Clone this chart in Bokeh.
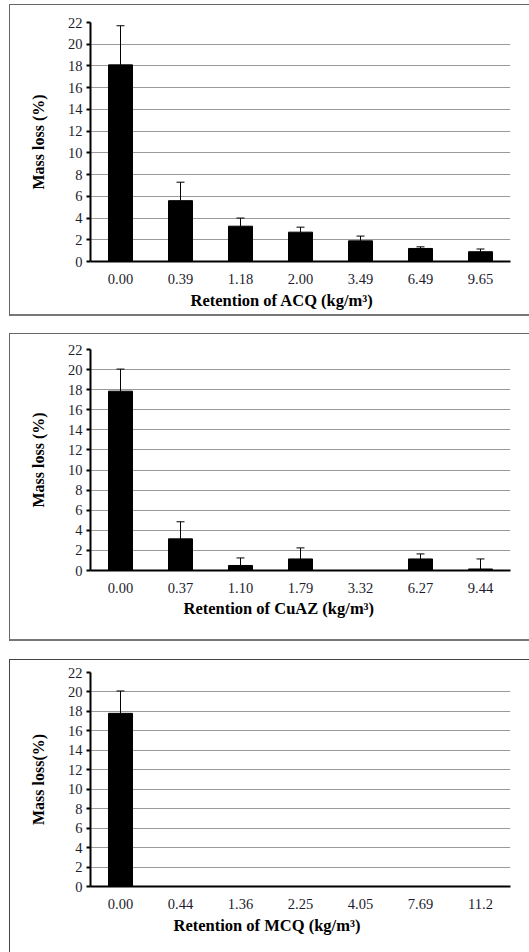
from bokeh.plotting import figure
from bokeh.models import (ColumnDataSource, Whisker, TeeHead, FixedTicker, Range1d,
                          FactorRange, Spacer, Title)
from bokeh.layouts import column, row
from bokeh.embed import file_html
from bokeh.resources import INLINE

# ---- data ----
acq_ret = ["0.00", "0.39", "1.18", "2.00", "3.49", "6.49", "9.65"]
acq_loss = [18.1, 5.6, 3.25, 2.7, 1.9, 1.2, 0.9]
acq_err = [3.6, 1.7, 0.75, 0.46, 0.44, 0.15, 0.25]

cuaz_ret = ["0.00", "0.37", "1.10", "1.79", "3.32", "6.27", "9.44"]
cuaz_loss = [17.85, 3.15, 0.5, 1.15, 0.0, 1.15, 0.15]
cuaz_err = [2.2, 1.7, 0.75, 1.1, 0.0, 0.5, 1.0]

mcq_ret = ["0.00", "0.44", "1.36", "2.25", "4.05", "7.69", "11.2"]
mcq_loss = [17.8, 0.0, 0.0, 0.0, 0.0, 0.0, 0.0]
mcq_err = [2.3, 0.0, 0.0, 0.0, 0.0, 0.0, 0.0]

y_ticks = list(range(0, 23, 2))

FONT = "Liberation Serif"
TICK_COLOR = "#1c1c2e"


def make_panel(ret, loss, err, xlabel, ylabel, height, mb, shadow, x_off, x_stand):
    p = figure(x_range=FactorRange(*ret), y_range=Range1d(0, 22),
               width=520, height=height, output_backend="svg",
               toolbar_location=None,
               min_border_left=mb[0], min_border_right=mb[1],
               min_border_top=mb[2], min_border_bottom=mb[3])
    p.styles = {"box-shadow": shadow}
    p.border_fill_color = None
    p.background_fill_color = None
    p.outline_line_color = None

    src = ColumnDataSource(dict(x=ret, top=loss))
    p.vbar(x="x", top="top", width=0.4, source=src,
           fill_color="black", line_color="black")

    ex = [r for r, e in zip(ret, err) if e > 0]
    eb = [v for v, e in zip(loss, err) if e > 0]
    eu = [v + e for v, e in zip(loss, err) if e > 0]
    esrc = ColumnDataSource(dict(x=ex, base=eb, upper=eu, lower=eb))
    w = Whisker(base="x", upper="upper", lower="lower", source=esrc,
                dimension="height", line_color="black", line_width=1,
                upper_head=TeeHead(size=8, line_color="black", line_width=1),
                lower_head=None)
    p.add_layout(w)

    p.xgrid.grid_line_color = None
    p.ygrid.ticker = FixedTicker(ticks=y_ticks)
    p.ygrid.grid_line_color = "#9a9a9a"
    p.ygrid.grid_line_width = 1

    p.yaxis.ticker = FixedTicker(ticks=y_ticks)
    p.yaxis.minor_tick_line_color = None
    p.yaxis.major_tick_out = 4
    p.yaxis.major_tick_in = 0
    p.yaxis.axis_line_width = 2
    p.yaxis.major_tick_line_width = 2
    p.yaxis.major_label_standoff = 4
    p.yaxis.axis_label = ylabel
    p.yaxis.axis_label_standoff = 18

    p.xaxis.major_tick_out = 0
    p.xaxis.major_tick_in = 0
    p.xaxis.major_tick_line_color = None
    p.xaxis.axis_line_width = 2
    p.xaxis.major_label_standoff = 12

    for ax in (p.xaxis, p.yaxis):
        ax.axis_line_color = "black"
        ax.major_label_text_font = FONT
        ax.major_label_text_font_size = "14.5px"
        ax.major_label_text_color = TICK_COLOR
        ax.axis_label_text_font = FONT
        ax.axis_label_text_font_size = "16px"
        ax.axis_label_text_font_style = "bold"
        ax.axis_label_text_color = "black"

    # x-axis title, centred on the chart area like the original (not on the plot frame)
    t = Title(text=xlabel, align="left", offset=x_off, standoff=x_stand,
              text_font=FONT, text_font_size="16.5px", text_font_style="bold",
              text_color="black")
    p.add_layout(t, "below")
    return p


shadow_full = "inset 1px 1px 0 #666666, inset 0 -2px 0 #777777"
shadow_cut = "inset 1px 1px 0 #444444"

p1 = make_panel(acq_ret, acq_loss, acq_err,
                "Retention of ACQ (kg/m\u00b3)", "Mass loss (%)",
                312, (80, 19, 18, 55), shadow_full, 100, 4)
p2 = make_panel(cuaz_ret, cuaz_loss, cuaz_err,
                "Retention of CuAZ (kg/m\u00b3)", "Mass loss (%)",
                308, (81, 11, 16, 71), shadow_full, 93, 2)
p3 = make_panel(mcq_ret, mcq_loss, mcq_err,
                "Retention of MCQ (kg/m\u00b3)", "Mass loss(%)",
                293, (78, 11, 13, 66), shadow_cut, 83, 5)

col = column(Spacer(width=520, height=4), p1, Spacer(width=520, height=17),
             p2, Spacer(width=520, height=18), p3, spacing=0)
layout = row(Spacer(width=9, height=10), col, spacing=0)

open("out.html", "w").write(file_html(layout, INLINE))
